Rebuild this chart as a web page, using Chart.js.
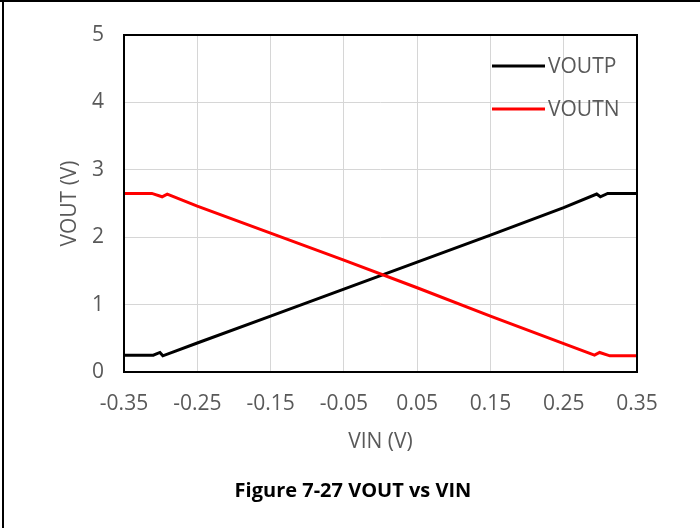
<!DOCTYPE html>
<html>
<head>
<meta charset="utf-8">
<script src="https://cdn.jsdelivr.net/npm/chart.js@4.4.1/dist/chart.umd.min.js"></script>
<style>
  html, body { margin: 0; padding: 0; background: #fff; }
  canvas { display: block; }
</style>
</head>
<body>
<canvas id="chart" width="700" height="528"></canvas>
<script>
// VOUTP
const vinP = [-0.35, -0.31, -0.301, -0.297, -0.25, -0.15, -0.05, 0.05, 0.15, 0.25, 0.295, 0.300, 0.31, 0.35];
const voutP = [0.25, 0.25, 0.29, 0.24, 0.43, 0.83, 1.23, 1.63, 2.03, 2.44, 2.64, 2.60, 2.65, 2.65];

// VOUTN
const vinN = [-0.35, -0.312, -0.298, -0.291, -0.25, -0.15, -0.05, 0.05, 0.15, 0.25, 0.292, 0.299, 0.313, 0.35];
const voutN = [2.65, 2.65, 2.60, 2.64, 2.46, 2.06, 1.66, 1.25, 0.83, 0.42, 0.25, 0.29, 0.24, 0.24];

const seriesNames = ['VOUTP', 'VOUTN'];
const xTitle = 'VIN (V)';
const yTitle = 'VOUT (V)';
const caption = 'Figure 7-27 VOUT vs VIN';

const toPoints = (xs, ys) => xs.map((x, i) => ({ x: x, y: ys[i] }));

const tickFont = { family: 'Open Sans', size: 21 };
const gray = '#595959';

// frame around plot, outer page border, legend inside plot and caption
const decorations = {
  id: 'decorations',
  afterDraw(chart) {
    const ctx = chart.ctx;
    const a = chart.chartArea;
    ctx.save();
    ctx.strokeStyle = '#000';
    ctx.lineWidth = 2;
    ctx.strokeRect(a.left, a.top, a.right - a.left, a.bottom - a.top);

    ctx.fillStyle = '#000';
    ctx.fillRect(0, 0, 700, 2);
    ctx.fillRect(2, 0, 2, 528);

    // legend
    ctx.font = '21px "Open Sans"';
    ctx.textBaseline = 'middle';
    ctx.textAlign = 'left';
    chart.data.datasets.forEach((ds, i) => {
      const y = 66 + i * 43;
      ctx.strokeStyle = ds.borderColor;
      ctx.lineWidth = 3;
      ctx.beginPath();
      ctx.moveTo(492, y);
      ctx.lineTo(545, y);
      ctx.stroke();
      ctx.fillStyle = gray;
      ctx.fillText(ds.label, 548, y + 1);
    });

    ctx.fillStyle = '#000';
    ctx.font = 'bold 20px "Open Sans"';
    ctx.textAlign = 'center';
    ctx.fillText(caption, 353, 491);
    ctx.restore();
  }
};

new Chart(document.getElementById('chart'), {
  type: 'line',
  data: {
    datasets: [
      {
        label: seriesNames[0],
        data: toPoints(vinP, voutP),
        borderColor: '#000000',
        borderWidth: 3,
        pointRadius: 0,
        tension: 0,
        order: 1
      },
      {
        label: seriesNames[1],
        data: toPoints(vinN, voutN),
        borderColor: '#ff0000',
        borderWidth: 3,
        pointRadius: 0,
        tension: 0,
        order: 0
      }
    ]
  },
  options: {
    responsive: false,
    animation: false,
    layout: {
      autoPadding: false,
      padding: { left: 57, top: 35, right: 63, bottom: 73 }
    },
    plugins: {
      legend: { display: false },
      tooltip: { enabled: false }
    },
    scales: {
      x: {
        type: 'linear',
        min: -0.35,
        max: 0.35,
        afterFit: s => { s.height = 83; s.paddingLeft = 0; s.paddingRight = 0; },
        ticks: {
          stepSize: 0.1,
          color: gray,
          font: tickFont,
          padding: 19,
          maxRotation: 0,
          callback: v => v.toFixed(2)
        },
        grid: { color: '#d6d6d6', lineWidth: 1, drawTicks: false },
        border: { display: false },
        title: { display: true, text: xTitle, color: gray, font: tickFont, padding: 0 }
      },
      y: {
        min: 0,
        max: 5,
        afterFit: s => { s.width = 67; s.paddingTop = 0; s.paddingBottom = 0; },
        ticks: {
          stepSize: 1,
          color: gray,
          font: tickFont,
          padding: 20
        },
        grid: { color: '#d6d6d6', lineWidth: 1, drawTicks: false },
        border: { display: false },
        title: { display: true, text: yTitle, color: gray, font: tickFont, padding: 0 }
      }
    }
  },
  plugins: [decorations]
});
</script>
</body>
</html>
